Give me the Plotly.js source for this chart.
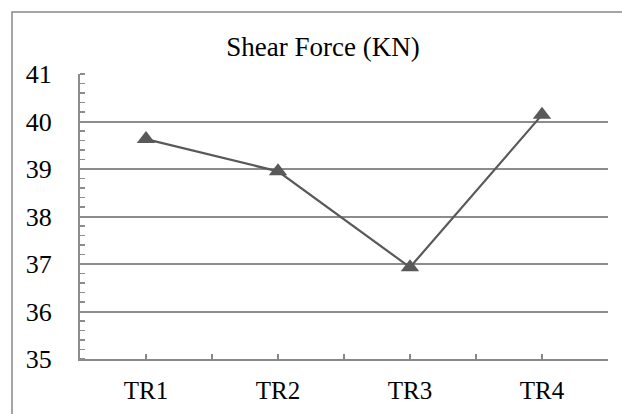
<!DOCTYPE html>
<html><head><meta charset="utf-8">
<script src="https://cdn.plot.ly/plotly-3.0.1.min.js"></script>
<style>body{margin:0;padding:0;background:#fff}</style>
</head><body>
<div id="chart" style="width:622px;height:414px;"></div>
<script>
const categories = ["TR1", "TR2", "TR3", "TR4"];
const shearForce = [39.63, 38.95, 36.93, 40.14];
const yTicks = [35, 36, 37, 38, 39, 40, 41];

const xIdx = categories.map((c, i) => i);
const trace = {
  x: xIdx, y: shearForce, type: 'scatter', mode: 'lines+markers',
  text: categories,
  line: {color: '#595959', width: 2.2},
  marker: {symbol: 'triangle-up', size: 16, color: '#595959'},
  cliponaxis: false, hoverinfo: 'none'
};
const layout = {
  width: 622, height: 414,
  margin: {l: 80, r: 14, t: 74, b: 55},
  paper_bgcolor: '#fff', plot_bgcolor: '#fff',
  showlegend: false,
  title: {text: 'Shear Force (KN)', x: 323/622, xref: 'container', xanchor: 'center', y: 1 - 47/414, yanchor: 'middle', yref: 'container',
          font: {family: 'Liberation Serif', size: 27, color: '#000'}},
  xaxis: {
    range: [-0.5, 3.5], tickvals: xIdx, ticktext: categories, showgrid: false, showline: true, linecolor: '#888', linewidth: 2,
    ticks: 'inside', ticklen: 5, tickcolor: '#888', tickwidth: 1.5,
    minor: {ticks: 'inside', ticklen: 5, tickcolor: '#888', tickwidth: 1.5, dtick: 0.5, tick0: 0, showgrid: false},
    tickfont: {family: 'Liberation Serif', size: 25, color: '#000'}, ticklabelstandoff: 8,
    zeroline: false, fixedrange: true
  },
  yaxis: {
    range: [35, 41], tickvals: yTicks, showgrid: true, gridcolor: '#8c8c8c', gridwidth: 2,
    showline: true, linecolor: '#8c8c8c', linewidth: 2, ticks: '',
    minor: {ticks: 'inside', ticklen: 5, tickcolor: '#8c8c8c', tickwidth: 1.5, dtick: 0.2, tick0: 35, showgrid: false},
    tickfont: {family: 'Liberation Serif', size: 26, color: '#000'}, ticklabelstandoff: 21,
    zeroline: false, fixedrange: true
  },
  shapes: [{type: 'rect', xref: 'paper', yref: 'paper', x0: (12-80)/528, x1: 1.2, y0: -0.4, y1: 1 + (74-12)/285,
            line: {color: '#888', width: 1.5}, fillcolor: 'rgba(0,0,0,0)', layer: 'below'}]
};
Plotly.newPlot('chart', [trace], layout, {displayModeBar: false, staticPlot: true});
</script>
</body></html>
